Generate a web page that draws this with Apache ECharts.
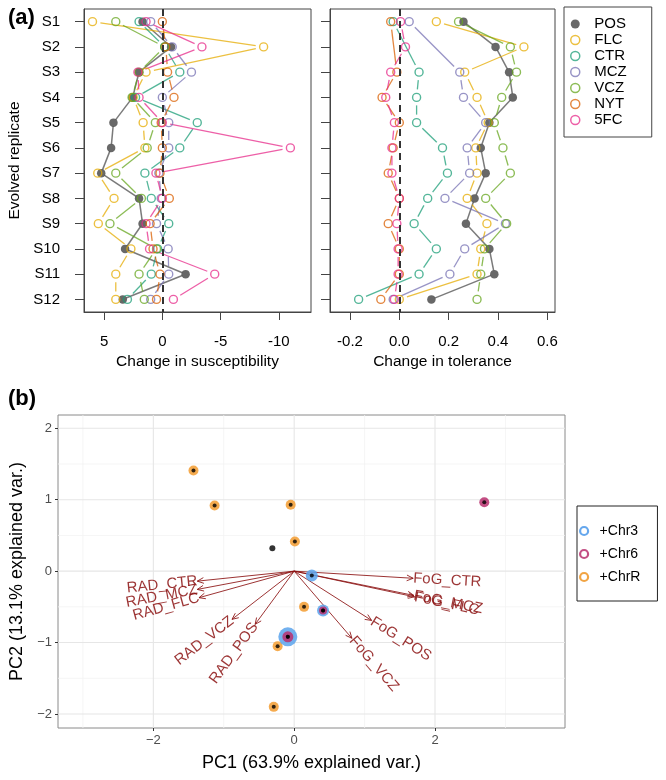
<!DOCTYPE html>
<html>
<head>
<meta charset="utf-8">
<script src="https://cdn.jsdelivr.net/npm/echarts@6/dist/echarts.min.js"></script>
<style>
html, body { margin: 0; padding: 0; background: #fff; }
#main { width: 666px; height: 780px; }
</style>
</head>
<body>
<div id="main"></div>
<script>
// ---- panel (a): change per evolved replicate ----
const replicates = ['S1', 'S2', 'S3', 'S4', 'S5', 'S6', 'S7', 'S8', 'S9', 'S10', 'S11', 'S12'];
const drugs = ['POS', 'FLC', 'CTR', 'MCZ', 'VCZ', 'NYT', '5FC'];
const drugColors = ['#4d4d4d', '#E6AB02', '#1B9E77', '#7570B3', '#66A61E', '#D95F02', '#E7298A'];

const suscPOS = [1.7, -0.75, 2.0, 2.55, 4.2, 4.4, 5.25, 2.0, 1.7, 3.2, -2.0, 3.4];
const suscFLC = [6.0, -8.7, 1.4, 2.5, 1.65, 1.5, 5.55, 4.15, 5.5, 2.7, 4.0, 4.0];
const suscCTR = [2.0, -0.2, -1.5, 2.3, -3.0, -1.5, 1.5, 0.95, -0.55, 0.4, 0.95, 3.0];
const suscMCZ = [1.0, -0.85, -2.5, 0.0, -0.55, -0.55, 0.3, 0.1, 0.5, -0.5, -0.55, 1.0];
const suscVCZ = [4.0, -0.2, 2.0, 2.6, 0.6, 1.3, 4.0, 1.8, 4.5, 0.5, 2.0, 1.55];
const suscNYT = [0.0, -0.3, -0.45, -1.0, 0.1, 0.0, 0.2, -0.6, 1.05, 0.8, 0.2, 0.5];
const susc5FC = [1.4, -3.4, 2.1, 2.0, 0.0, -11.0, 0.55, 0.0, 1.4, 1.1, -4.5, -0.95];

const tolPOS = [0.26, 0.39, 0.445, 0.46, 0.365, 0.33, 0.35, 0.305, 0.27, 0.365, 0.385, 0.13];
const tolFLC = [0.15, 0.505, 0.265, 0.315, 0.36, 0.31, 0.315, 0.275, 0.355, 0.33, 0.315, 0.0];
const tolCTR = [-0.025, null, 0.08, 0.07, 0.07, 0.175, 0.195, 0.115, 0.06, 0.15, 0.08, -0.165];
const tolMCZ = [0.04, null, 0.245, 0.26, 0.35, 0.275, 0.285, 0.185, 0.43, 0.265, 0.205, -0.025];
const tolVCZ = [0.24, 0.45, 0.475, 0.415, 0.385, 0.42, 0.45, 0.35, 0.435, 0.345, 0.33, 0.315];
const tolNYT = [-0.035, null, -0.01, -0.07, 0.0, -0.025, -0.045, 0.0, -0.045, 0.0, 0.0, -0.075];
const tol5FC = [0.005, 0.025, -0.035, -0.055, -0.02, -0.03, -0.03, 0.0, -0.01, -0.005, -0.005, -0.02];

const suscTicks = [5, 0, -5, -10];
const tolTicks = [-0.2, 0, 0.2, 0.4, 0.6];

// ---- panel (b): PCA biplot ----
const pcChr3 = [[0.25, -0.06], [0.41, -0.55], [-0.09, -0.92]];
const pcChr6 = [[2.70, 0.965], [0.41, -0.55], [-0.09, -0.92]];
const pcChrR = [[-1.43, 1.41], [-1.13, 0.92], [-0.05, 0.93], [0.01, 0.415], [0.14, -0.50], [-0.235, -1.05], [-0.29, -1.90]];
const pcOther = [[-0.31, 0.32]];

const loadNames = ['RAD_CTR', 'RAD_MCZ', 'RAD_FLC', 'RAD_VCZ', 'RAD_POS', 'FoG_CTR', 'FoG_MCZ', 'FoG_FLC', 'FoG_POS', 'FoG_VCZ'];
const loadPC1 = [-1.376, -1.376, -1.352, -0.883, -0.555, 1.69, 1.70, 1.71, 1.10, 0.82];
const loadPC2 = [-0.14, -0.256, -0.372, -0.675, -0.745, -0.10, -0.34, -0.36, -0.69, -0.94];

const pcTickX = [-2, 0, 2];
const pcTickY = [-2, -1, 0, 1, 2];
const pcMinorX = [-3, -1, 1, 3];
const pcMinorY = [-1.5, -0.5, 0.5, 1.5];

const FONT = 'Liberation Sans';
const ARROW = '#8B1010';

const suscData = [suscPOS, suscFLC, suscCTR, suscMCZ, suscVCZ, suscNYT, susc5FC];
const tolData = [tolPOS, tolFLC, tolCTR, tolMCZ, tolVCZ, tolNYT, tol5FC];

function toPoints(vals) {
  const out = [];
  vals.forEach((v, i) => { if (v != null) out.push([v, i]); });
  return out;
}
function toSegments(vals) {
  const out = [];
  let prev = -1;
  for (let i = 0; i < vals.length; i++) {
    if (vals[i] == null) continue;
    if (prev >= 0) out.push([vals[prev], prev, vals[i], i]);
    prev = i;
  }
  return out;
}
// lines of R type="b": segment with a gap round each point
function gapSegment(color, width, gap) {
  return function (params, api) {
    const a = api.coord([api.value(0), api.value(1)]);
    const b = api.coord([api.value(2), api.value(3)]);
    const dx = b[0] - a[0], dy = b[1] - a[1];
    const len = Math.sqrt(dx * dx + dy * dy);
    if (len <= 2 * gap) return null;
    const ux = dx / len, uy = dy / len;
    return {
      type: 'line',
      shape: { x1: a[0] + ux * gap, y1: a[1] + uy * gap, x2: b[0] - ux * gap, y2: b[1] - uy * gap },
      style: { stroke: color, lineWidth: width, opacity: 0.75 }
    };
  };
}

const series = [];
[suscData, tolData].forEach((panel, g) => {
  panel.forEach((vals, k) => {
    const col = drugColors[k];
    series.push({
      type: 'custom', name: drugs[k] + '-seg', xAxisIndex: g, yAxisIndex: g,
      renderItem: k === 0 ? gapSegment(col, 1.5, 3.5) : gapSegment(col, 1.3, 8),
      encode: { x: [0, 2], y: [1, 3] },
      data: toSegments(vals), silent: true
    });
    const s = {
      type: 'scatter', name: drugs[k], xAxisIndex: g, yAxisIndex: g,
      symbol: 'circle', symbolSize: k === 0 ? 8.5 : 8,
      itemStyle: k === 0
        ? { color: col, opacity: 0.85 }
        : { color: 'rgba(255,255,255,0)', borderColor: col, borderWidth: 1.4, opacity: 0.75 },
      data: toPoints(vals), silent: true
    };
    if (k === panel.length - 1) {
      s.markLine = {
        silent: true, symbol: ['none', 'none'], label: { show: false },
        lineStyle: { color: '#333', type: [7, 5], width: 2 },
        data: [{ xAxis: 0 }]
      };
    }
    series.push(s);
  });
});

// grid lines of panel (b)
function vLines(color, width) {
  return function (params, api) {
    const cs = params.coordSys;
    const x = api.coord([api.value(0), 0])[0];
    return { type: 'line', shape: { x1: x, y1: cs.y, x2: x, y2: cs.y + cs.height }, style: { stroke: color, lineWidth: width } };
  };
}
function hLines(color, width) {
  return function (params, api) {
    const cs = params.coordSys;
    const y = api.coord([0, api.value(0)])[1];
    return { type: 'line', shape: { x1: cs.x, y1: y, x2: cs.x + cs.width, y2: y }, style: { stroke: color, lineWidth: width } };
  };
}
series.push(
  { type: 'custom', xAxisIndex: 2, yAxisIndex: 2, renderItem: vLines('#F2F2F2', 0.8), encode: { x: 0 }, data: pcMinorX.map(v => [v]), silent: true },
  { type: 'custom', xAxisIndex: 2, yAxisIndex: 2, renderItem: hLines('#F2F2F2', 0.8), encode: { y: 0 }, data: pcMinorY.map(v => [v]), silent: true },
  { type: 'custom', xAxisIndex: 2, yAxisIndex: 2, renderItem: vLines('#E6E6E6', 1.1), encode: { x: 0 }, data: pcTickX.map(v => [v]), silent: true },
  { type: 'custom', xAxisIndex: 2, yAxisIndex: 2, renderItem: hLines('#E6E6E6', 1.1), encode: { y: 0 }, data: pcTickY.map(v => [v]), silent: true }
);

series.push(
  { type: 'scatter', name: '+ChrR', xAxisIndex: 2, yAxisIndex: 2, symbolSize: 10,
    itemStyle: { color: '#F4A23C', opacity: 0.9 }, data: pcChrR, silent: true },
  { type: 'scatter', name: '+Chr3', xAxisIndex: 2, yAxisIndex: 2,
    symbolSize: (v, p) => (p.dataIndex === 2 ? 19 : 12),
    itemStyle: { color: '#5AA3EC', opacity: 0.85 }, data: pcChr3, silent: true },
  { type: 'scatter', name: '+Chr6', xAxisIndex: 2, yAxisIndex: 2,
    symbolSize: (v, p) => (p.dataIndex === 0 ? 10 : p.dataIndex === 1 ? 8 : 11),
    itemStyle: { color: '#B8306E', opacity: 0.85 }, data: pcChr6, silent: true },
  { type: 'scatter', xAxisIndex: 2, yAxisIndex: 2, symbolSize: 6,
    itemStyle: { color: '#000' }, data: pcOther, silent: true },
  { type: 'scatter', xAxisIndex: 2, yAxisIndex: 2, symbolSize: 4,
    itemStyle: { color: '#000' }, data: pcChr3.concat(pcChr6, pcChrR), silent: true }
);

// loading arrows with their labels
series.push({
  type: 'custom', xAxisIndex: 2, yAxisIndex: 2, silent: true,
  encode: { x: 0, y: 1 },
  data: loadPC1.map((x, i) => [x, loadPC2[i]]),
  renderItem: function (params, api) {
    const o = api.coord([0, 0]);
    const t = api.coord([api.value(0), api.value(1)]);
    const ang = Math.atan2(t[1] - o[1], t[0] - o[0]);
    const h = 7, s = 0.42;
    const left = t[0] < o[0];
    const rot = left ? -(ang - Math.PI) : -ang;
    return {
      type: 'group',
      children: [
        { type: 'line', shape: { x1: o[0], y1: o[1], x2: t[0], y2: t[1] }, style: { stroke: ARROW, lineWidth: 1, opacity: 0.85 } },
        { type: 'polyline',
          shape: { points: [[t[0] - h * Math.cos(ang - s), t[1] - h * Math.sin(ang - s)], [t[0], t[1]], [t[0] - h * Math.cos(ang + s), t[1] - h * Math.sin(ang + s)]] },
          style: { stroke: ARROW, lineWidth: 1, fill: 'none', opacity: 0.85 } },
        { type: 'text', x: t[0], y: t[1], rotation: rot,
          style: { text: loadNames[params.dataIndex], fontSize: 15, fontFamily: FONT, fill: ARROW, opacity: 0.85,
                   align: left ? 'right' : 'left', verticalAlign: 'middle' } }
      ]
    };
  }
});

const minus = v => (v < 0 ? '\u2212' + Math.abs(v) : String(v));

const option = {
  animation: false,
  backgroundColor: '#fff',
  textStyle: { fontFamily: FONT },
  title: [
    { text: '(a)', left: 3, top: 2, textStyle: { fontSize: 22, fontWeight: 'bold', color: '#000', fontFamily: FONT } },
    { text: '(b)', left: 3, top: 383, textStyle: { fontSize: 22, fontWeight: 'bold', color: '#000', fontFamily: FONT } }
  ],
  legend: [
    {
      data: drugs.map((d, i) => ({
        name: d, icon: 'circle',
        itemStyle: i === 0 ? { color: drugColors[0], borderWidth: 0 } : { color: '#fff', borderColor: drugColors[i], borderWidth: 1.5 }
      })),
      orient: 'vertical', left: 564, top: 7, itemWidth: 28, itemHeight: 9, itemGap: 0,
      padding: [9, 25, 9, 6], borderColor: '#444', borderWidth: 1, selectedMode: false,
      textStyle: { fontSize: 15, lineHeight: 16, color: '#000', fontFamily: FONT }
    },
    {
      data: [
        { name: '+Chr3', icon: 'circle', itemStyle: { color: '#fff', borderColor: '#4A98EA', borderWidth: 2.2 } },
        { name: '+Chr6', icon: 'circle', itemStyle: { color: '#fff', borderColor: '#B8306E', borderWidth: 2.2 } },
        { name: '+ChrR', icon: 'circle', itemStyle: { color: '#fff', borderColor: '#F09A30', borderWidth: 2.2 } }
      ],
      orient: 'vertical', left: 577, top: 506, itemWidth: 21, itemHeight: 8, itemGap: 9,
      padding: [18, 17, 17, 2], borderColor: '#222', borderWidth: 1, selectedMode: false,
      textStyle: { fontSize: 14, lineHeight: 14, color: '#000', fontFamily: FONT }
    }
  ],
  grid: [
    { left: 84, top: 9, width: 227, height: 303, show: true, borderColor: '#444', borderWidth: 1 },
    { left: 330, top: 9, width: 225, height: 303, show: true, borderColor: '#444', borderWidth: 1 },
    { left: 55, top: 415, width: 510, height: 313, show: true, borderColor: '#8a8a8a', borderWidth: 1 }
  ],
  xAxis: [
    {
      gridIndex: 0, type: 'value', inverse: true, min: -12.77, max: 6.73,
      axisLine: { show: true, onZero: false, lineStyle: { color: '#444' } },
      axisTick: { show: true, length: 8, customValues: suscTicks, lineStyle: { color: '#444' } },
      axisLabel: { customValues: suscTicks, margin: 22, fontSize: 15, color: '#000' },
      splitLine: { show: false },
      name: 'Change in susceptibility', nameLocation: 'middle', nameGap: 42,
      nameTextStyle: { fontSize: 15.5, color: '#000' }
    },
    {
      gridIndex: 1, type: 'value', min: -0.281, max: 0.631,
      axisLine: { show: true, onZero: false, lineStyle: { color: '#444' } },
      axisTick: { show: true, length: 8, customValues: tolTicks, lineStyle: { color: '#444' } },
      axisLabel: { customValues: tolTicks, margin: 22, fontSize: 15, color: '#000', formatter: v => v.toFixed(1) },
      splitLine: { show: false },
      name: 'Change in tolerance', nameLocation: 'middle', nameGap: 42,
      nameTextStyle: { fontSize: 15.5, color: '#000' }
    },
    {
      gridIndex: 2, type: 'value', min: -3.354, max: 3.846,
      axisLine: { show: false, onZero: false },
      axisTick: { show: true, length: 3, customValues: pcTickX, lineStyle: { color: '#333' } },
      axisLabel: { customValues: pcTickX, margin: 6, fontSize: 13, color: '#4d4d4d', formatter: minus },
      splitLine: { show: false },
      name: 'PC1 (63.9% explained var.)', nameLocation: 'middle', nameGap: 26,
      nameTextStyle: { fontSize: 18, color: '#000' }
    }
  ],
  yAxis: [
    {
      gridIndex: 0, type: 'category', data: replicates, inverse: true,
      axisLine: { show: true, onZero: false, lineStyle: { color: '#444' } },
      axisTick: { show: true, alignWithLabel: true, length: 9, lineStyle: { color: '#444' } },
      axisLabel: { interval: 0, fontSize: 15, color: '#000', margin: 24 },
      splitLine: { show: false },
      name: 'Evolved replicate', nameLocation: 'middle', nameGap: 61,
      nameTextStyle: { fontSize: 15.5, color: '#000' }
    },
    {
      gridIndex: 1, type: 'category', data: replicates, inverse: true,
      axisLine: { show: true, onZero: false, lineStyle: { color: '#444' } },
      axisTick: { show: true, alignWithLabel: true, length: 9, lineStyle: { color: '#444' } },
      axisLabel: { show: false },
      splitLine: { show: false }
    },
    {
      gridIndex: 2, type: 'value', min: -2.196, max: 2.186,
      axisLine: { show: false, onZero: false },
      axisTick: { show: true, length: 3, customValues: pcTickY, lineStyle: { color: '#333' } },
      axisLabel: { customValues: pcTickY, margin: 6, fontSize: 13, color: '#4d4d4d', formatter: minus },
      splitLine: { show: false },
      name: 'PC2 (13.1% explained var.)', nameLocation: 'middle', nameGap: 32,
      nameTextStyle: { fontSize: 18, color: '#000' }
    }
  ],
  series: series
};

const chart = echarts.init(document.getElementById('main'), null, { renderer: 'canvas' });
chart.setOption(option);
</script>
</body>
</html>
